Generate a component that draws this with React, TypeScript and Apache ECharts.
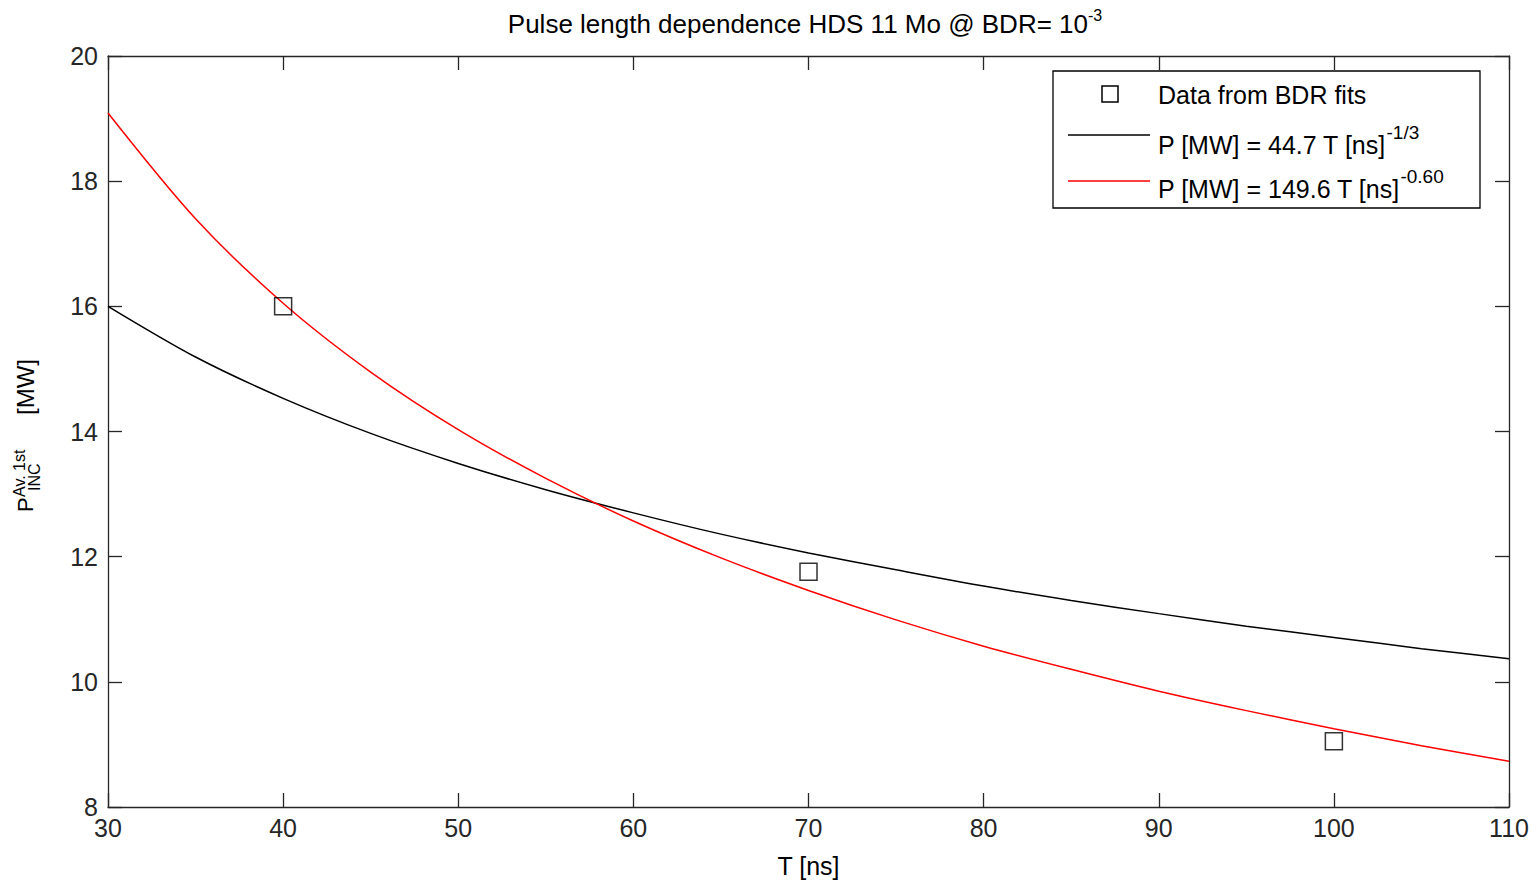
import React, { useEffect, useRef } from "react";
import * as echarts from "echarts";

const FONT = "'Liberation Sans', Arial, Helvetica, sans-serif";

// Pulse length T [ns] sampled for the fit curves
const T_NS = [30, 35, 40, 45, 50, 55, 60, 65, 70, 75, 80, 85, 90, 95, 100, 105, 110];
// Black fit curve values (P [MW])
const FIT_BLACK = [16.0, 15.19, 14.53, 13.97, 13.49, 13.07, 12.7, 12.36, 12.06, 11.79, 11.53, 11.3, 11.09, 10.89, 10.71, 10.53, 10.37];
// Red fit curve values (P [MW])
const FIT_RED = [19.09, 17.4, 16.05, 14.95, 14.03, 13.25, 12.57, 11.98, 11.46, 10.99, 10.57, 10.2, 9.85, 9.54, 9.25, 8.98, 8.73];
// Data points from BDR fits
const DATA_T = [40, 70, 100];
const DATA_P = [16.0, 11.76, 9.05];

const NAME_DATA = "Data from BDR fits";
const NAME_BLACK = "P [MW] = 44.7 T [ns]^-1/3";
const NAME_RED = "P [MW] = 149.6 T [ns]^-0.60";

export default function App() {
  const ref = useRef<HTMLDivElement>(null);
  useEffect(() => {
    const chart = echarts.init(ref.current!, null, { renderer: "svg" });
    const axisLineStyle = { color: "#262626", width: 1.3 };
    const legendRich = {
      n: { fontSize: 25, fontFamily: FONT, fill: "#000", color: "#000", verticalAlign: "bottom", padding: [9, 0, 0, 0] },
      s: { fontSize: 19, fontFamily: FONT, fill: "#000", color: "#000", verticalAlign: "top" },
    };
    const option: any = {
      animation: false,
      backgroundColor: "#ffffff",
      textStyle: { fontFamily: FONT },
      grid: { left: 108, right: 29, top: 56, bottom: 74, containLabel: false },
      xAxis: [
        {
          type: "value", min: 30, max: 110, interval: 10, position: "bottom",
          name: "T [ns]", nameLocation: "middle", nameGap: 46,
          nameTextStyle: { fontSize: 25, color: "#000", fontFamily: FONT },
          axisLine: { show: true, lineStyle: axisLineStyle },
          axisTick: { show: true, inside: true, length: 14, lineStyle: axisLineStyle },
          axisLabel: { fontSize: 25, color: "#262626", margin: 8, fontFamily: FONT },
          splitLine: { show: false },
        },
        {
          type: "value", min: 30, max: 110, interval: 10, position: "top",
          axisLine: { show: true, lineStyle: axisLineStyle },
          axisTick: { show: true, inside: true, length: 14, lineStyle: axisLineStyle },
          axisLabel: { show: false },
          splitLine: { show: false },
        },
      ],
      yAxis: [
        {
          type: "value", min: 8, max: 20, interval: 2, position: "left",
          axisLine: { show: true, lineStyle: axisLineStyle },
          axisTick: { show: true, inside: true, length: 14, lineStyle: axisLineStyle },
          axisLabel: { fontSize: 25, color: "#262626", margin: 10, fontFamily: FONT },
          splitLine: { show: false },
        },
        {
          type: "value", min: 8, max: 20, interval: 2, position: "right",
          axisLine: { show: true, lineStyle: axisLineStyle },
          axisTick: { show: true, inside: true, length: 14, lineStyle: axisLineStyle },
          axisLabel: { show: false },
          splitLine: { show: false },
        },
      ],
      graphic: [
        // Legend box
        {
          type: "rect", z: 5,
          shape: { x: 1053, y: 71, width: 427, height: 137 },
          style: { fill: "#fff", stroke: "#000", lineWidth: 1.3 },
        },
        {
          type: "rect", z: 6,
          shape: { x: 1102, y: 86, width: 16, height: 16 },
          style: { fill: "none", stroke: "#000", lineWidth: 1.5 },
        },
        {
          type: "text", z: 6, x: 1158, y: 95,
          style: { text: NAME_DATA, font: `25px ${FONT}`, fill: "#000", align: "left", verticalAlign: "middle" },
        },
        {
          type: "line", z: 6,
          shape: { x1: 1068, y1: 135, x2: 1150, y2: 135 },
          style: { stroke: "#000", lineWidth: 1.5 },
        },
        {
          type: "text", z: 6, x: 1158, y: 157,
          style: {
            text: "{n|P [MW] = 44.7 T [ns]}{s|-1/3}",
            align: "left", verticalAlign: "bottom", rich: legendRich,
          },
        },
        {
          type: "line", z: 6,
          shape: { x1: 1068, y1: 181, x2: 1150, y2: 181 },
          style: { stroke: "#ff0000", lineWidth: 1.5 },
        },
        {
          type: "text", z: 6, x: 1158, y: 201,
          style: {
            text: "{n|P [MW] = 149.6 T [ns]}{s|-0.60}",
            align: "left", verticalAlign: "bottom", rich: legendRich,
          },
        },
        // Title
        {
          type: "text", z: 6, x: 805, y: 37,
          style: {
            text: "{n|Pulse length dependence HDS 11 Mo @ BDR= 10}{s|-3}",
            align: "center", verticalAlign: "bottom",
            rich: {
              n: { fontSize: 26, fontFamily: FONT, fill: "#000", color: "#000", verticalAlign: "bottom", padding: [4, 0, 0, 0] },
              s: { fontSize: 16, fontFamily: FONT, fill: "#000", color: "#000", verticalAlign: "top" },
            },
          },
        },
        // Y axis label (rotated)
        {
          type: "group", x: 25, y: 512, rotation: Math.PI / 2, z: 6,
          children: [
            { type: "text", x: 0, y: 0, style: { text: "P", font: `22px ${FONT}`, fill: "#000", align: "left", verticalAlign: "middle" } },
            { type: "text", x: 15, y: -6, style: { text: "Av. 1st", font: `16px ${FONT}`, fill: "#000", align: "left", verticalAlign: "middle" } },
            { type: "text", x: 21, y: 9, style: { text: "INC", font: `16px ${FONT}`, fill: "#000", align: "left", verticalAlign: "middle" } },
            { type: "text", x: 97, y: 0, style: { text: "[MW]", font: `24px ${FONT}`, fill: "#000", align: "left", verticalAlign: "middle" } },
          ],
        },
      ],
      series: [
        {
          name: NAME_DATA,
          type: "scatter",
          xAxisIndex: 0, yAxisIndex: 0,
          symbol: "rect",
          symbolSize: 17,
          itemStyle: { color: "rgba(255,255,255,0)", borderColor: "#000", borderWidth: 1.5 },
          data: DATA_T.map((t, i) => [t, DATA_P[i]]),
          z: 3,
        },
        {
          name: NAME_BLACK,
          type: "line",
          xAxisIndex: 0, yAxisIndex: 0,
          showSymbol: false,
          symbol: "none",
          smooth: 0.3,
          lineStyle: { color: "#000", width: 1.5 },
          itemStyle: { color: "#000" },
          data: T_NS.map((t, i) => [t, FIT_BLACK[i]]),
          z: 2,
        },
        {
          name: NAME_RED,
          type: "line",
          xAxisIndex: 0, yAxisIndex: 0,
          showSymbol: false,
          symbol: "none",
          smooth: 0.3,
          lineStyle: { color: "#ff0000", width: 1.5 },
          itemStyle: { color: "#ff0000" },
          data: T_NS.map((t, i) => [t, FIT_RED[i]]),
          z: 2,
        },
      ],
    };
    chart.setOption(option);
    return () => chart.dispose();
  }, []);
  return (
    <div
      ref={ref}
      style={{ position: "fixed", left: 0, top: 0, width: 1538, height: 883, background: "#fff" }}
    />
  );
}
